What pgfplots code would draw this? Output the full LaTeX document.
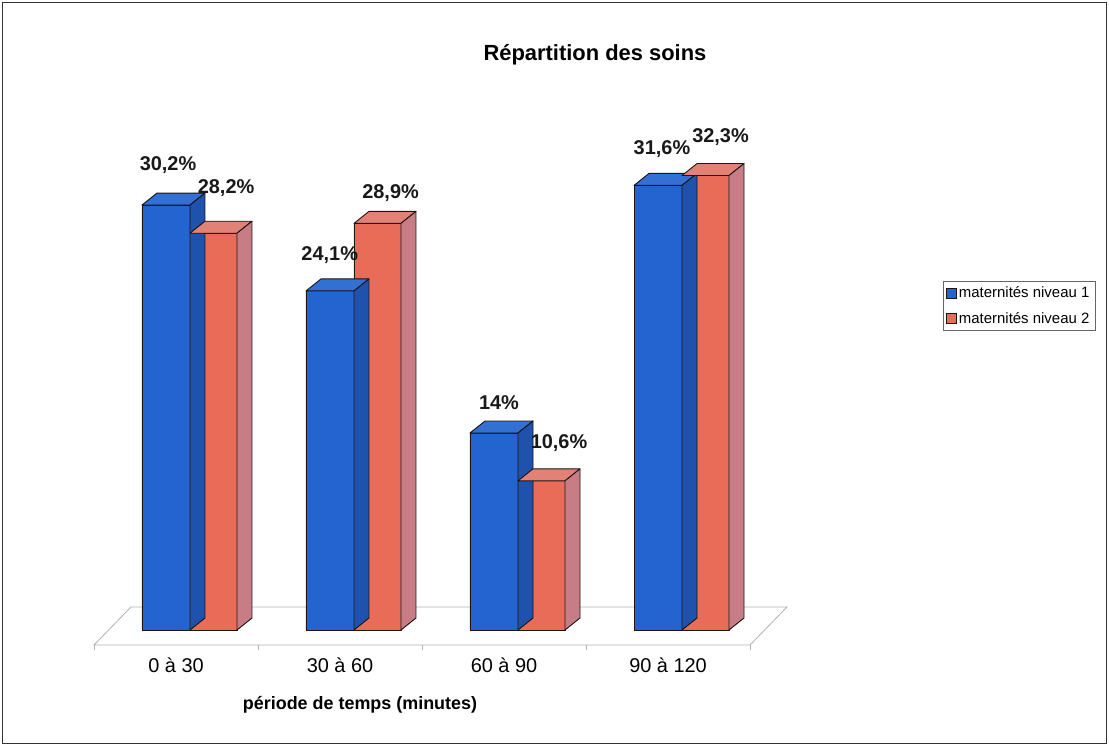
\documentclass[border=0pt]{standalone}
\usepackage{fontspec}
\setmainfont{Liberation Sans}
\usepackage{pgfplots}
\usepackage{pgfplotstable}
\pgfplotsset{compat=1.18}
\definecolor{bluefront}{RGB}{36,100,208}
\definecolor{bluetop}{RGB}{50,112,212}
\definecolor{blueside}{RGB}{30,82,172}
\definecolor{redfront}{RGB}{232,108,88}
\definecolor{redtop}{RGB}{226,130,118}
\definecolor{redside}{RGB}{200,124,134}
\definecolor{edgedark}{RGB}{30,20,20}

\newcommand\cubefaces[4]{%
  \pgfmathsetmacro\hh{\rawy*14.07}%
  \path[fill=#3, draw=edgedark, line width=0.9bp, line join=round]
    (#1bp,0bp) -- (#1bp+15bp,12bp) -- (#2bp+15bp,12bp) -- (#2bp,0bp) -- cycle;
  \path[fill=#4, draw=edgedark, line width=0.9bp, line join=round]
    (#2bp,0bp) -- (#2bp+15bp,12bp) -- (#2bp+15bp,12bp-\hh bp) -- (#2bp,-\hh bp) -- cycle;
}
\pgfdeclareplotmark{cubeblue}{\cubefaces{-48}{0}{bluetop}{blueside}}
\pgfdeclareplotmark{cubered}{\cubefaces{0}{47}{redtop}{redside}}

% x = category index, v = value (%), lx/ly = position of the value label
\pgfplotstableread{
x v lx ly lab
0 30.2 -0.134 33.04 30,2
1 24.1 0.852 26.66 24,1
2 14 1.884 16.13 14
3 31.6 2.878 34.16 31,6
}\datablue
\pgfplotstableread{
x v lx ly lab
0 28.2 0.220 31.40 28,2
1 28.9 1.223 31.03 28,9
2 10.6 2.250 13.30 10,6
3 32.3 3.235 35.00 32,3
}\datared

\begin{document}
\begin{tikzpicture}
\begin{axis}[
  at={(0,0)}, anchor=south west,
  x=164bp, y=14.07bp,
  xmin=-1.1585, xmax=5.6037,
  ymin=-8.2445, ymax=44.776,
  axis line style={draw=none},
  ytick=\empty,
  xtick={-0.085,0.915,1.915,2.915},
  xticklabels={0 à 30,30 à 60,60 à 90,90 à 120},
  major tick length=0pt,
  xticklabel style={anchor=center, yshift=81bp, font=\fontsize{20}{24}\selectfont},
  clip=false,
  legend style={at={(0.850,0.623)}, anchor=north west, draw=black!60, fill=white,
    font=\fontsize{15}{18}\selectfont, row sep=9bp, inner sep=3.5bp},
  legend cell align=left,
  vlabel/.style={draw=none, mark=none, forget plot, point meta=explicit symbolic,
    nodes near coords={\pgfplotspointmeta\%},
    nodes near coords style={anchor=center, font=\bfseries\fontsize{20}{24}\selectfont,
      text=black!90, inner sep=0pt}},
]
% floor
\addplot[draw=black!30, fill=white, line width=0.8bp, forget plot]
  coordinates {(-0.585,-1.066) (3.415,-1.066) (3.640,1.635) (-0.360,1.635)} -- cycle;
\addplot[draw=black!30, line width=0.8bp, forget plot] coordinates {(-0.585,-1.066) (-0.585,-1.42)};
\addplot[draw=black!30, line width=0.8bp, forget plot] coordinates {(0.415,-1.066) (0.415,-1.42)};
\addplot[draw=black!30, line width=0.8bp, forget plot] coordinates {(1.415,-1.066) (1.415,-1.42)};
\addplot[draw=black!30, line width=0.8bp, forget plot] coordinates {(2.415,-1.066) (2.415,-1.42)};
\addplot[draw=black!30, line width=0.8bp, forget plot] coordinates {(3.415,-1.066) (3.415,-1.42)};
% blue series
\addplot[ybar, bar width=48bp, bar shift=-24bp, fill=bluefront, draw=edgedark,
  line width=0.9bp, forget plot] table[x=x,y=v]{\datablue};
\addplot[only marks, mark=cubeblue, forget plot,
  visualization depends on={rawy \as \rawy}]
  table[x=x,y=v]{\datablue};
% red series
\addplot[ybar, bar width=47bp, bar shift=23.5bp, fill=redfront, draw=edgedark,
  line width=0.9bp, forget plot] table[x=x,y=v]{\datared};
\addplot[only marks, mark=cubered, forget plot,
  visualization depends on={rawy \as \rawy}]
  table[x=x,y=v]{\datared};
% value labels
\addplot[vlabel] table[x=lx,y=ly,meta=lab]{\datablue};
\addplot[vlabel] table[x=lx,y=ly,meta=lab]{\datared};
% legend
\addlegendimage{legend image code/.code={\filldraw[fill=bluefront,draw=edgedark,line width=0.6bp] (0bp,-5bp) rectangle (10bp,5bp);}}
\addlegendentry{maternités niveau 1}
\addlegendimage{legend image code/.code={\filldraw[fill=redfront,draw=edgedark,line width=0.6bp] (0bp,-5bp) rectangle (10bp,5bp);}}
\addlegendentry{maternités niveau 2}
% title and axis label
\node[font=\bfseries\fontsize{22}{26}\selectfont] at (rel axis cs:0.5365,0.9263) {Répartition des soins};
\node[font=\bfseries\fontsize{18}{21}\selectfont] at (rel axis cs:0.3246,0.0550) {période de temps (minutes)};
\end{axis}
\draw[line width=1.5bp, black!80] (2.5bp,2.5bp) rectangle (1106.5bp,743.5bp);
\pgfresetboundingbox
\path (0,0) rectangle (1109bp,746bp);
\end{tikzpicture}
\end{document}
